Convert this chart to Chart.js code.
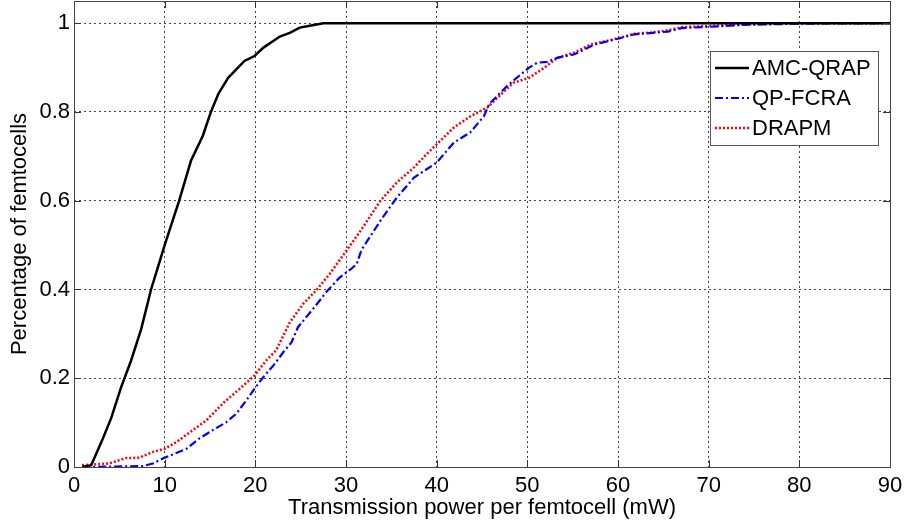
<!DOCTYPE html>
<html>
<head>
<meta charset="utf-8">
<script src="https://cdn.jsdelivr.net/npm/chart.js@4"></script>
<style>
  body { margin: 0; background: #fff; }
  canvas { display: block; }
</style>
</head>
<body>
<canvas id="cdf" width="904" height="526"></canvas>
<script>
// dados
const seriesNames = ["AMC-QRAP", "QP-FCRA", "DRAPM"];

const amcX = [0.9, 1.9, 3.1, 4.1, 5.2, 6.3, 7.4, 8.5, 9.4, 10, 11.6, 12.9, 14.2, 15.1, 15.9, 17, 18.8, 19.9, 20.9, 22.7, 23.8, 24.9, 26, 27.5, 90];
const amcY = [0, 0.004, 0.06, 0.11, 0.18, 0.24, 0.31, 0.40, 0.46, 0.5, 0.6, 0.69, 0.746, 0.8, 0.84, 0.877, 0.915, 0.926, 0.945, 0.97, 0.978, 0.99, 0.994, 1, 1];

const qpX = [0.9, 7.6, 8.7, 9.8, 11.1, 12.4, 13.8, 15.3, 16.8, 17.9, 19, 19.9, 20.9, 22, 23.1, 24, 24.7, 26.4, 27.9, 29.3, 30.5, 31.2, 31.7, 33.8, 35.6, 37.5, 40, 41.9, 43.7, 45.2, 45.8, 47.8, 49.3, 50.2, 51.1, 52.2, 53.3, 55.2, 57.4, 60.2, 61.8, 65.5, 67, 70.3, 73.6, 75.9, 80.3, 90];
const qpY = [0, 0.002, 0.008, 0.019, 0.03, 0.041, 0.064, 0.083, 0.101, 0.12, 0.15, 0.176, 0.203, 0.229, 0.259, 0.281, 0.315, 0.357, 0.396, 0.427, 0.445, 0.458, 0.489, 0.555, 0.607, 0.652, 0.686, 0.731, 0.754, 0.79, 0.818, 0.859, 0.885, 0.9, 0.911, 0.913, 0.922, 0.93, 0.952, 0.966, 0.975, 0.981, 0.989, 0.992, 0.996, 0.997, 0.999, 1];

const drapmX = [0.9, 3.9, 5.7, 7.2, 8.7, 10, 11.3, 13.1, 14.6, 16.4, 18.1, 19.9, 21.2, 22.3, 23.8, 25.3, 26.8, 28.2, 30.1, 31.6, 33.8, 35.6, 37.5, 38.9, 40, 41.9, 43.7, 45.6, 47.1, 48.5, 50.2, 51.9, 53.3, 55.2, 57, 60.2, 61.8, 63.7, 65.5, 67, 70.3, 73.6, 80.3, 90];
const drapmY = [0.004, 0.008, 0.02, 0.021, 0.034, 0.041, 0.056, 0.083, 0.105, 0.143, 0.173, 0.206, 0.24, 0.263, 0.326, 0.368, 0.40, 0.435, 0.489, 0.532, 0.6, 0.641, 0.675, 0.705, 0.727, 0.765, 0.79, 0.81, 0.84, 0.866, 0.877, 0.9, 0.922, 0.934, 0.952, 0.967, 0.976, 0.979, 0.984, 0.991, 0.994, 0.997, 1, 1];

const xTicks = [0, 10, 20, 30, 40, 50, 60, 70, 80, 90];
const yTicks = [0, 0.2, 0.4, 0.6, 0.8, 1];

const FONT = "'Liberation Sans', Arial, sans-serif";

// junta x e y em pontos
function toPoints(xs, ys) {
    return xs.map((x, i) => ({ x: x, y: ys[i] }));
}

// tira o espaco extra que o Chart.js reserva para os rotulos
function noEdgePadding(s) {
    s.paddingTop = 0;
    s.paddingBottom = 0;
    s.paddingLeft = 0;
    s.paddingRight = 0;
}

// legenda no estilo MATLAB + moldura e marcas internas
const matlabBox = {
    id: "matlabBox",
    afterDraw(chart) {
        const ctx = chart.ctx;
        const a = chart.chartArea;
        const xs = chart.scales.x;
        const ys = chart.scales.y;
        ctx.save();

        // marcas internas dos eixos
        ctx.strokeStyle = "#333";
        ctx.lineWidth = 1;
        ctx.setLineDash([]);
        ctx.beginPath();
        xTicks.forEach(v => {
            const px = Math.round(xs.getPixelForValue(v)) + 0.5;
            ctx.moveTo(px, a.bottom); ctx.lineTo(px, a.bottom - 7);
            ctx.moveTo(px, a.top); ctx.lineTo(px, a.top + 7);
        });
        yTicks.forEach(v => {
            const py = Math.round(ys.getPixelForValue(v)) + 0.5;
            ctx.moveTo(a.left, py); ctx.lineTo(a.left + 7, py);
            ctx.moveTo(a.right, py); ctx.lineTo(a.right - 7, py);
        });
        ctx.stroke();

        // moldura
        ctx.strokeStyle = "#444";
        ctx.strokeRect(Math.round(a.left) + 0.5, Math.round(a.top) + 0.5,
            Math.round(a.right - a.left), Math.round(a.bottom - a.top));

        // legenda
        const bx = a.right - 180, by = a.top + 50, bw = 168, bh = 94;
        ctx.fillStyle = "#fff";
        ctx.fillRect(bx, by, bw, bh);
        ctx.strokeStyle = "#555";
        ctx.strokeRect(bx + 0.5, by + 0.5, bw, bh);

        ctx.font = "22px " + FONT;
        ctx.textBaseline = "middle";
        chart.data.datasets.forEach((ds, i) => {
            const ly = by + 17 + i * 30;
            ctx.strokeStyle = ds.borderColor;
            ctx.lineWidth = ds.borderWidth;
            ctx.setLineDash(ds.borderDash || []);
            ctx.beginPath();
            ctx.moveTo(bx + 5, ly);
            ctx.lineTo(bx + 39, ly);
            ctx.stroke();
            ctx.setLineDash([]);
            ctx.fillStyle = "#000";
            ctx.fillText(ds.label, bx + 42, ly + 1);
        });
        ctx.restore();
    }
};

const ctxCdf = document.getElementById("cdf").getContext("2d");

new Chart(ctxCdf, {
    type: "line",
    data: {
        datasets: [
            {
                label: seriesNames[0],
                data: toPoints(amcX, amcY),
                borderColor: "#000000",
                borderWidth: 2.5,
                pointRadius: 0,
                tension: 0,
            },
            {
                label: seriesNames[1],
                data: toPoints(qpX, qpY),
                borderColor: "#0000ff",
                borderWidth: 2.2,
                borderDash: [8, 3, 2, 3],
                pointRadius: 0,
                tension: 0,
            },
            {
                label: seriesNames[2],
                data: toPoints(drapmX, drapmY),
                borderColor: "#ff0000",
                borderWidth: 2.5,
                borderDash: [2, 2],
                pointRadius: 0,
                tension: 0,
            },
        ],
    },
    options: {
        responsive: false,
        animation: false,
        layout: { padding: { top: 1, right: 14, left: 0, bottom: 0 } },
        plugins: {
            legend: { display: false },
            tooltip: { enabled: false },
        },
        scales: {
            x: {
                type: "linear",
                min: 0,
                max: 90,
                afterBuildTicks: s => { s.ticks = xTicks.map(v => ({ value: v })); },
                afterFit: s => { s.height = 59; noEdgePadding(s); },
                grid: { color: "#444", drawTicks: false },
                border: { display: false, dash: [2, 3] },
                ticks: { color: "#000", padding: 6, font: { family: FONT, size: 22 } },
                title: {
                    display: true,
                    text: "Transmission power per femtocell (mW)",
                    color: "#000",
                    font: { family: FONT, size: 22 },
                    padding: { top: 0, bottom: 5 },
                },
            },
            y: {
                min: 0,
                max: 1.05,
                afterBuildTicks: s => { s.ticks = yTicks.map(v => ({ value: v })); },
                afterFit: s => { s.width = 74; noEdgePadding(s); },
                grid: { color: "#444", drawTicks: false },
                border: { display: false, dash: [2, 3] },
                ticks: { color: "#000", padding: 4, font: { family: FONT, size: 22 }, callback: v => String(v) },
                title: {
                    display: true,
                    text: "Percentage of femtocells",
                    color: "#000",
                    font: { family: FONT, size: 22 },
                    padding: { top: 7, bottom: 0 },
                },
            },
        },
    },
    plugins: [matlabBox],
});
</script>
</body>
</html>
